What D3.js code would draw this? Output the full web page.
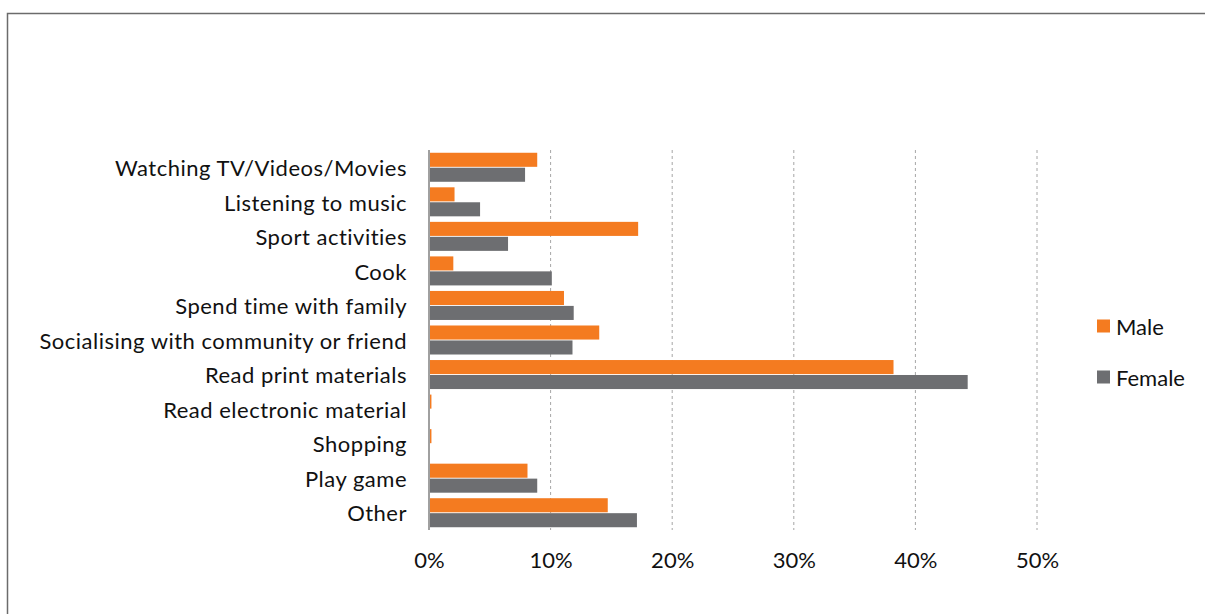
<!DOCTYPE html>
<html><head><meta charset="utf-8">
<script src="https://cdn.jsdelivr.net/npm/d3@7"></script>
<style>body{margin:0;background:#fff}svg{display:block}</style>
</head><body>
<svg id="c" width="1205" height="614"></svg>
<script>
const categories = ["Watching TV/Videos/Movies","Listening to music","Sport activities","Cook","Spend time with family","Socialising with community or friend","Read print materials","Read electronic material","Shopping","Play game","Other"];
const male =   [8.9, 2.1, 17.2, 2.0, 11.1, 14.0, 38.2, 0.2, 0.2, 8.1, 14.7];
const female = [7.9, 4.2, 6.5, 10.1, 11.9, 11.8, 44.3, 0, 0, 8.9, 17.1];
const seriesNames = ["Male","Female"];
const colors = ["#F47B20","#6D6E71"];
const xTicks = [0,10,20,30,40,50];

const svg = d3.select("#c");
const font = "Lato, 'Open Sans', sans-serif";
// frame
svg.append("path").attr("d","M7.5,614 V13.5 H1205").attr("fill","none").attr("stroke","#6b6b6b").attr("stroke-width",1.5);

const x = d3.scaleLinear().domain([0,50]).range([429,1037]);
const y = d3.scaleBand().domain(categories).range([150,530]).paddingInner(0.16).paddingOuter(0.08);
const y1 = d3.scaleBand().domain(seriesNames).range([0,y.bandwidth()]).paddingInner(0.06);

// gridlines
svg.append("g").selectAll("line").data(xTicks.slice(1)).join("line")
  .attr("x1",d=>x(d)).attr("x2",d=>x(d)).attr("y1",150).attr("y2",530)
  .attr("stroke","#a6a6a6").attr("stroke-width",1).attr("stroke-dasharray","3,3");

// bars
const data = categories.map((c,i)=>({c, vals:[male[i],female[i]]}));
const g = svg.append("g").selectAll("g").data(data).join("g").attr("transform",d=>`translate(0,${y(d.c)})`);
g.selectAll("rect").data(d=>d.vals.map((v,j)=>({v,s:seriesNames[j],j}))).join("rect")
  .attr("x",x(0)).attr("y",d=>y1(d.s)).attr("height",y1.bandwidth())
  .attr("width",d=>x(d.v)-x(0)).attr("fill",d=>colors[d.j]);

// y axis line
svg.append("line").attr("x1",x(0)).attr("x2",x(0)).attr("y1",150).attr("y2",530).attr("stroke","#a0a0a0").attr("stroke-width",2);

// category labels
svg.append("g").selectAll("text").data(categories).join("text")
  .attr("x",407).attr("y",d=>y(d)+y.bandwidth()/2+1).attr("dy","0.35em")
  .attr("text-anchor","end").attr("font-family",font).attr("font-size",22).attr("letter-spacing","0.5px").attr("fill","#111").text(d=>d);

// x axis tick labels
const xa = svg.append("g").attr("transform","translate(0,530)")
  .call(d3.axisBottom(x).tickValues(xTicks).tickFormat(d=>d+"%").tickSize(0).tickPadding(22));
xa.select(".domain").remove();
xa.selectAll("text").attr("font-family",font).attr("font-size",22).attr("fill","#111");

// legend
const lg = svg.append("g").selectAll("g").data(seriesNames).join("g")
  .attr("transform",(d,i)=>`translate(1097,${326+i*51})`);
lg.append("rect").attr("x",0).attr("y",-6.5).attr("width",13).attr("height",13).attr("fill",(d,i)=>colors[i]);
lg.append("text").attr("x",19).attr("y",1).attr("dy","0.35em").attr("font-family",font).attr("font-size",22).attr("fill","#111").text(d=>d);
</script>
</body></html>
